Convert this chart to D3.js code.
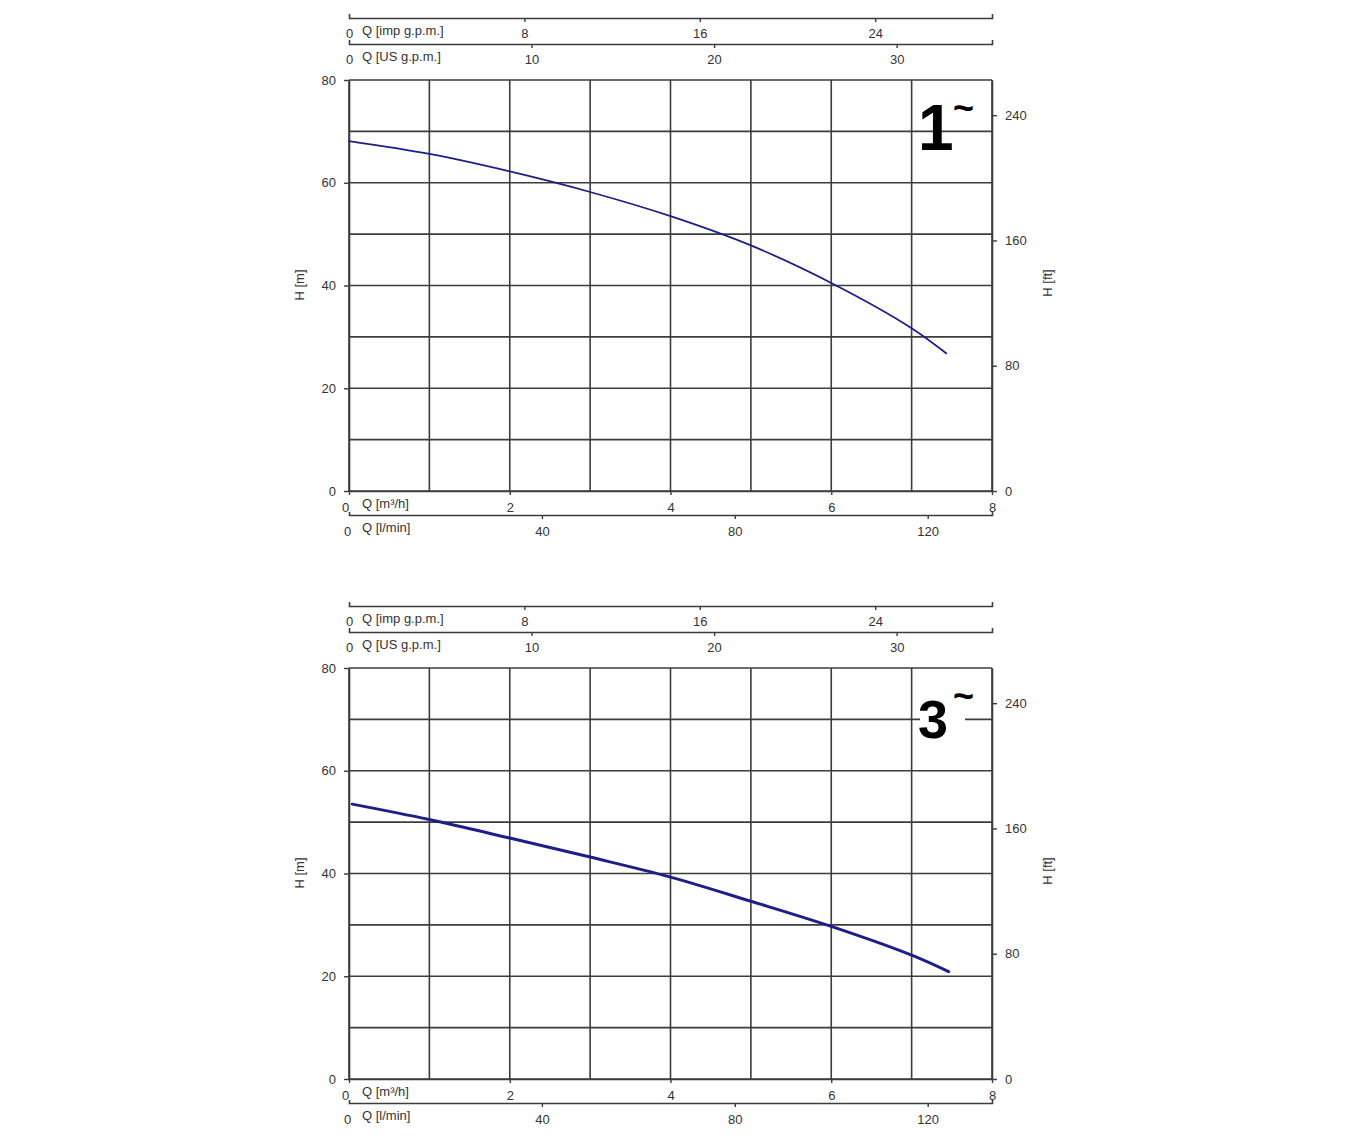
<!DOCTYPE html>
<html><head><meta charset="utf-8">
<script src="https://cdn.jsdelivr.net/npm/d3@7"></script>
<style>
body{margin:0;background:#fff;}
text{font-family:"Liberation Sans",Arial,sans-serif;}
</style></head>
<body>
<svg id="c" width="1354" height="1142"></svg>
<script>
// Data: flow Q [m³/h] vs head H [m]
const flowQ1 = [0, 1, 2, 3, 4, 5, 6, 7, 7.43];
const head1  = [68.1, 65.6, 62.2, 58.2, 53.5, 47.8, 40.5, 31.7, 26.8];
const flowQ3 = [0.04, 1, 2, 3, 4, 5, 6, 7, 7.46];
const head3  = [53.5, 50.5, 46.9, 43.2, 39.3, 34.6, 29.7, 24.1, 20.9];

const m3hTicks  = [0, 2, 4, 6, 8];
const lminTicks = [0, 40, 80, 120];
const impTicks  = [0, 8, 16, 24];
const usTicks   = [0, 10, 20, 30];
const hmTicks   = [0, 20, 40, 60, 80];
const hftTicks  = [0, 80, 160, 240];
const chartLabels = ["1", "3"];

const svg = d3.select("#c");
const GRID = "#3c3c3c";
const TXT = "#333";

function drawChart(off, qs, hs, label, sw, digitSize, masked) {
  const g = svg.append("g").attr("transform", `translate(0,${off})`);
  const x = d3.scaleLinear().domain([0, 8]).range([349, 992]);
  const y = d3.scaleLinear().domain([0, 80]).range([491, 80]);
  const xImp = d3.scaleLinear().domain([0, 8 * 1000 / 60 / 4.54609]).range([349, 992]);
  const xUS = d3.scaleLinear().domain([0, 8 * 1000 / 60 / 3.78541]).range([349, 992]);
  const xL = d3.scaleLinear().domain([0, 8 * 1000 / 60]).range([349, 992]);
  const yFt = d3.scaleLinear().domain([0, 80 / 0.3048]).range([491, 80]);

  // grid
  const grid = g.append("g").attr("stroke", GRID).attr("stroke-width", 1.6);
  grid.selectAll("line.v").data(d3.range(0, 9)).join("line")
    .attr("x1", d => x(d)).attr("x2", d => x(d)).attr("y1", y(0)).attr("y2", y(80));
  grid.selectAll("line.h").data(d3.range(0, 90, 10)).join("line")
    .attr("y1", d => y(d)).attr("y2", d => y(d)).attr("x1", x(0)).attr("x2", x(8));

  function style(sel) {
    sel.selectAll("path.domain").attr("stroke", GRID).attr("stroke-width", 1.6);
    sel.selectAll(".tick line").attr("stroke", GRID).attr("stroke-width", 1.4);
    sel.selectAll(".tick text").attr("font-size", 13).style("fill", TXT)
      .style("font-family", '"Liberation Sans",Arial,sans-serif');
  }
  function unit(xp, yp, t) {
    g.append("text").attr("x", xp).attr("y", yp).attr("font-size", 13).style("fill", TXT).text(t);
  }

  // top imp gpm axis
  const aImp = g.append("g").attr("transform", "translate(0,18)")
    .call(d3.axisBottom(xImp).tickValues(impTicks).tickSize(4).tickSizeOuter(-4).tickPadding(7));
  style(aImp);
  aImp.selectAll(".tick").filter(d => d === 0).select("line").remove();
  unit(362, 35, "Q [imp g.p.m.]");

  const aUS = g.append("g").attr("transform", "translate(0,44)")
    .call(d3.axisBottom(xUS).tickValues(usTicks).tickSize(4).tickSizeOuter(-4).tickPadding(7));
  style(aUS);
  aUS.selectAll(".tick").filter(d => d === 0).select("line").remove();
  unit(362, 61, "Q [US g.p.m.]");

  // bottom m3/h axis
  const aM = g.append("g").attr("transform", `translate(0,${y(0)})`)
    .call(d3.axisBottom(x).tickValues(m3hTicks).tickSize(4).tickSizeOuter(0).tickPadding(8));
  style(aM);
  aM.selectAll(".tick text").filter(d => d === 0).attr("x", -4);
  unit(362, 508, "Q [m³/h]");

  const aL = g.append("g").attr("transform", "translate(0,515)")
    .call(d3.axisBottom(xL).tickValues(lminTicks).tickSize(4).tickSizeOuter(-3).tickPadding(8));
  style(aL);
  aL.selectAll(".tick").filter(d => d === 0).select("line").remove();
  aL.selectAll(".tick text").filter(d => d === 0).attr("x", -2);
  unit(362, 532, "Q [l/min]");

  // left H [m]
  const aH = g.append("g").attr("transform", `translate(${x(0)},0)`)
    .call(d3.axisLeft(y).tickValues(hmTicks).tickSize(5).tickSizeOuter(0).tickPadding(8));
  style(aH);
  g.append("text").attr("transform", "translate(304,285) rotate(-90)")
    .attr("text-anchor", "middle").attr("font-size", 13).style("fill", TXT).text("H [m]");

  // right H [ft]
  const aF = g.append("g").attr("transform", `translate(${x(8)},0)`)
    .call(d3.axisRight(yFt).tickValues(hftTicks).tickSize(5).tickSizeOuter(0).tickPadding(8));
  style(aF);
  g.append("text").attr("transform", "translate(1052,283) rotate(-90)")
    .attr("text-anchor", "middle").attr("font-size", 13).style("fill", TXT).text("H [ft]");

  // curve
  const pts = qs.map((q, i) => [q, hs[i]]);
  g.append("path").datum(pts)
    .attr("d", d3.line().x(d => x(d[0])).y(d => y(d[1])).curve(d3.curveCatmullRom))
    .attr("fill", "none").attr("stroke", "#1c1f8a").attr("stroke-width", sw)
    .attr("stroke-linecap", "round");

  // phase label
  const lg = g.append("g");
  const bg = lg.append("rect").attr("fill", "#fff");
  const dt = lg.append("text").attr("x", 918).attr("y", y(80) + 70).attr("font-size", digitSize)
    .attr("font-weight", "bold").style("fill", "#000").text(label);
  lg.append("text").attr("x", 953).attr("y", y(80) + 40).attr("font-size", 36)
    .attr("font-weight", "bold").style("fill", "#000").text("~");
  if (masked) {
    const b = dt.node().getBBox();
    bg.attr("x", b.x + 2).attr("y", b.y + 6).attr("width", 45).attr("height", b.height - 12);
  } else bg.remove();
}

drawChart(0, flowQ1, head1, chartLabels[0], 1.8, 64, false);
drawChart(588, flowQ3, head3, chartLabels[1], 3, 54, true);
</script>
</body></html>
